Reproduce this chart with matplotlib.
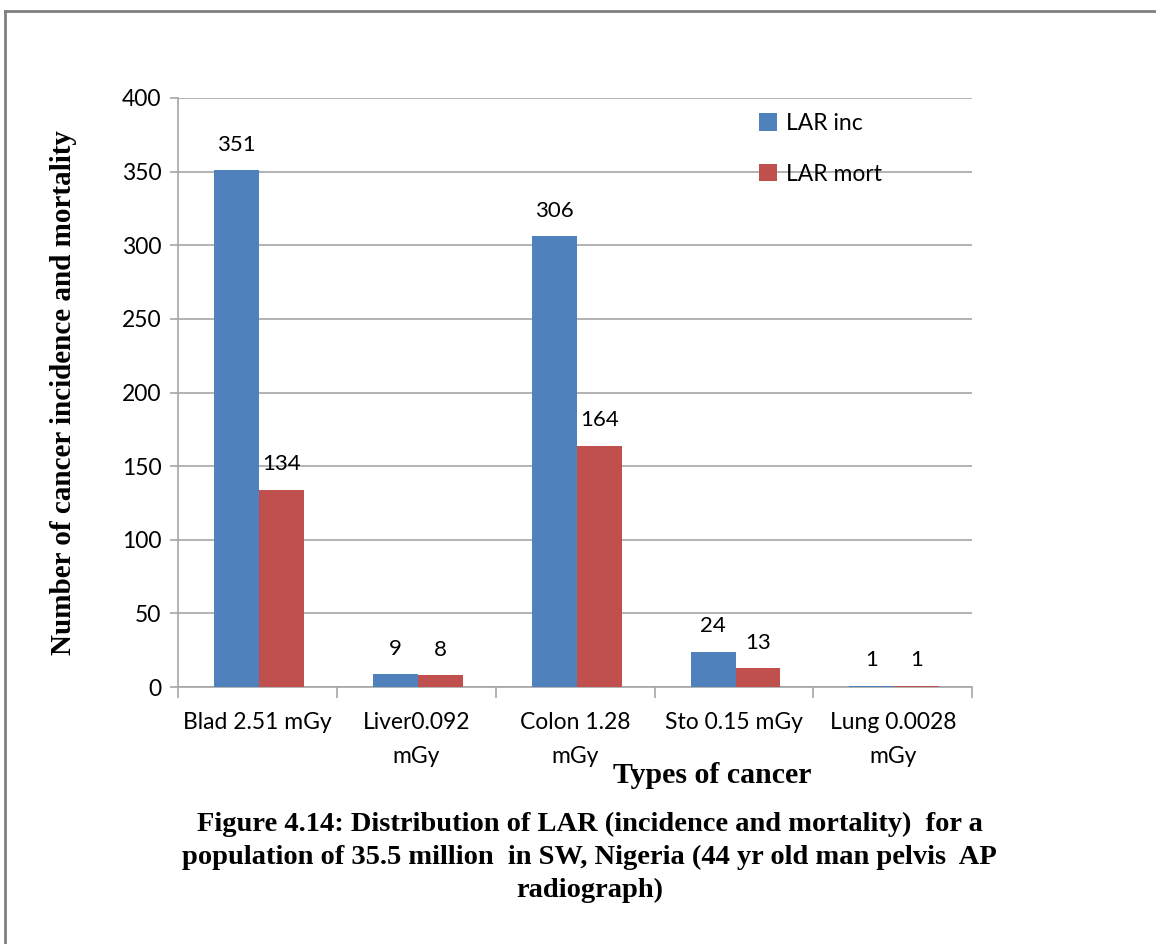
import numpy as np
import matplotlib
matplotlib.use("Agg")
import matplotlib.pyplot as plt

# data
categories = ["Blad 2.51 mGy", "Liver0.092\nmGy", "Colon 1.28\nmGy", "Sto 0.15 mGy", "Lung 0.0028\nmGy"]
lar_inc = [351, 9, 306, 24, 1]
lar_mort = [134, 8, 164, 13, 1]
y_ticks = [0, 50, 100, 150, 200, 250, 300, 350, 400]

blue = "#4F81BD"
red = "#C0504D"
sans = ["Lato", "DejaVu Sans"]
serif = ["Liberation Serif", "DejaVu Serif"]

fig = plt.figure(figsize=(11.56, 9.44), dpi=100)
ax = fig.add_axes([0.154, 0.2722, 0.687, 0.624])

x = np.arange(len(categories))
w = 0.283
off = 0.01
b1 = ax.bar(x + off - w / 2, lar_inc, w, color=blue, label="LAR inc", zorder=3)
b2 = ax.bar(x + off + w / 2, lar_mort, w, color=red, label="LAR mort", zorder=3)

for bars, vals in [(b1, lar_inc), (b2, lar_mort)]:
    for r, v in zip(bars, vals):
        ax.annotate(str(v), (r.get_x() + r.get_width() / 2, r.get_height()),
                    xytext=(0, 11), textcoords="offset points", ha="center", va="bottom",
                    fontsize=16, family=sans)

ax.set_xlim(-0.5, len(categories) - 0.5)
ax.set_ylim(0, 400)
ax.set_yticks(y_ticks)
ax.set_yticklabels([str(t) for t in y_ticks], fontsize=16.5, family=sans)
ax.yaxis.grid(True, color="#A6A6A6", linewidth=1.2, zorder=0)
ax.set_axisbelow(True)

# category labels centred, tick marks at group borders
ax.set_xticks(x)
ax.set_xticklabels(categories, fontsize=16.5, family=sans, linespacing=1.75)
ax.tick_params(axis="x", length=0, pad=18)
ax.set_xticks(np.arange(-0.5, len(categories)), minor=True)
ax.tick_params(axis="x", which="minor", length=8, color="#A6A6A6", width=1.2)
ax.tick_params(axis="y", length=6, color="#A6A6A6", width=1.2, pad=6)

for s in ["top", "right"]:
    ax.spines[s].set_visible(False)
ax.spines["left"].set_color("#A6A6A6")
ax.spines["bottom"].set_color("#A6A6A6")
ax.spines["left"].set_linewidth(1.2)
ax.spines["bottom"].set_linewidth(1.2)

ax.set_ylabel("Number of cancer incidence and mortality", fontsize=21,
              fontweight="bold", family=serif, labelpad=32)

leg = ax.legend(loc="upper left", bbox_to_anchor=(0.705, 1.01), frameon=False,
                prop={"family": sans, "size": 16.5}, labelspacing=1.3,
                handlelength=0.8, handleheight=0.8, handletextpad=0.4)

fig.text(0.616, 0.179, "Types of cancer", ha="center", va="center",
         fontsize=21.5, fontweight="bold", family=serif)
fig.text(0.51, 0.092,
         "Figure 4.14: Distribution of LAR (incidence and mortality)  for a\n"
         "population of 35.5 million  in SW, Nigeria (44 yr old man pelvis  AP\n"
         "radiograph)",
         ha="center", va="center", fontsize=20.5, fontweight="bold", family=serif,
         linespacing=1.42)

# page border (top and left only)
fig.add_artist(plt.Line2D([0.004, 1], [0.988, 0.988], transform=fig.transFigure,
                          color="#808080", linewidth=2))
fig.add_artist(plt.Line2D([0.004, 0.004], [0, 0.988], transform=fig.transFigure,
                          color="#808080", linewidth=2))

fig.savefig("out.png", dpi=100)
